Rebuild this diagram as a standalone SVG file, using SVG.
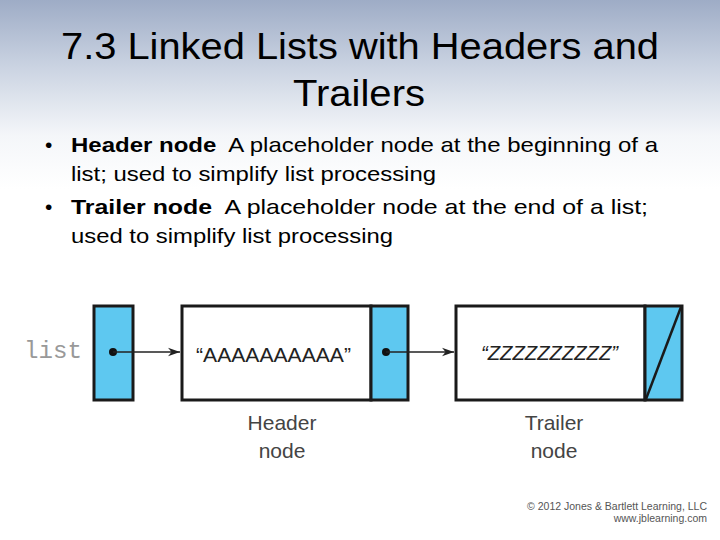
<svg xmlns="http://www.w3.org/2000/svg" width="720" height="540" viewBox="0 0 720 540">
<defs>
<linearGradient id="bg" x1="0" y1="0" x2="0" y2="1">
<stop offset="0" stop-color="#9eacc6"/>
<stop offset="0.12" stop-color="#c9d2e1"/>
<stop offset="0.25" stop-color="#f4f6f9"/>
<stop offset="0.35" stop-color="#ffffff"/>
</linearGradient>
<marker id="arr" viewBox="0 0 10 10" refX="10" refY="5" markerWidth="12" markerHeight="12" markerUnits="userSpaceOnUse" orient="auto">
<path d="M0,1.5 L10,5 L0,8.5 L3,5 Z" fill="#222"/>
</marker>
<style>
.title{font-family:"Liberation Sans",Arial,sans-serif;font-size:36px;fill:#000;}
.body{font-family:"Liberation Sans",Arial,sans-serif;font-size:21px;fill:#000;}
.b{font-weight:bold;}
.cell{fill:#5ec8f0;stroke:#1a1a1a;stroke-width:3;}
.box{fill:#fff;stroke:#1a1a1a;stroke-width:3;}
.val{font-family:"Liberation Sans",Arial,sans-serif;font-size:21px;fill:#222;}
.lbl{font-family:"Liberation Sans",Arial,sans-serif;font-size:21px;fill:#444;text-anchor:middle;}
.link{stroke:#222;stroke-width:1.6;fill:none;marker-end:url(#arr);}
.copy{font-family:"Liberation Sans",Arial,sans-serif;font-size:10.5px;fill:#555;text-anchor:end;}
</style>
</defs>
<rect x="0" y="0" width="720" height="540" fill="url(#bg)"/>
<text class="title" x="360" y="59" text-anchor="middle" textLength="598" lengthAdjust="spacingAndGlyphs">7.3 Linked Lists with Headers and</text>
<text class="title" x="359" y="106" text-anchor="middle" textLength="132" lengthAdjust="spacingAndGlyphs">Trailers</text>

<g class="body">
<text x="45" y="152">•</text>
<text x="71" y="152" textLength="587" lengthAdjust="spacingAndGlyphs"><tspan class="b">Header node</tspan>&#160; A placeholder node at the beginning of a</text>
<text x="71" y="181" textLength="365" lengthAdjust="spacingAndGlyphs">list; used to simplify list processing</text>
<text x="45" y="214">•</text>
<text x="71" y="214" textLength="577" lengthAdjust="spacingAndGlyphs"><tspan class="b">Trailer node</tspan>&#160; A placeholder node at the end of a list;</text>
<text x="71" y="243" textLength="322" lengthAdjust="spacingAndGlyphs">used to simplify list processing</text>
</g>

<g id="list">
<text x="24" y="358" font-family="Liberation Mono,monospace" font-size="23" fill="#999" textLength="58" lengthAdjust="spacingAndGlyphs">list</text>
<rect class="cell" x="94" y="306" width="39" height="94"/>
</g>
<g id="header">
<rect class="box" x="182" y="306" width="189" height="94"/>
<rect class="cell" x="371" y="306" width="37" height="94"/>
<text class="val" x="196" y="362" textLength="155" lengthAdjust="spacingAndGlyphs">“AAAAAAAAAA”</text>
<text class="lbl" x="282" y="430">Header</text>
<text class="lbl" x="282" y="458">node</text>
</g>
<g id="trailer">
<rect class="box" x="456" y="306" width="189" height="94"/>
<rect class="cell" x="645" y="306" width="37" height="94"/>
<line x1="646" y1="399" x2="681" y2="307" stroke="#1a1a1a" stroke-width="2.5"/>
<text class="val" x="481" y="360" font-style="italic" textLength="137" lengthAdjust="spacingAndGlyphs">“ZZZZZZZZZZ”</text>
<text class="lbl" x="554" y="430">Trailer</text>
<text class="lbl" x="554" y="458">node</text>
</g>
<g id="connectors">
<circle cx="113" cy="352" r="4" fill="#111"/>
<line class="link" x1="113" y1="352" x2="180" y2="352"/>
<circle cx="386" cy="352" r="4" fill="#111"/>
<line class="link" x1="386" y1="352" x2="454" y2="352"/>
</g>
<text class="copy" x="707" y="510">© 2012 Jones &amp; Bartlett Learning, LLC</text>
<text class="copy" x="707" y="522">www.jblearning.com</text>
</svg>
